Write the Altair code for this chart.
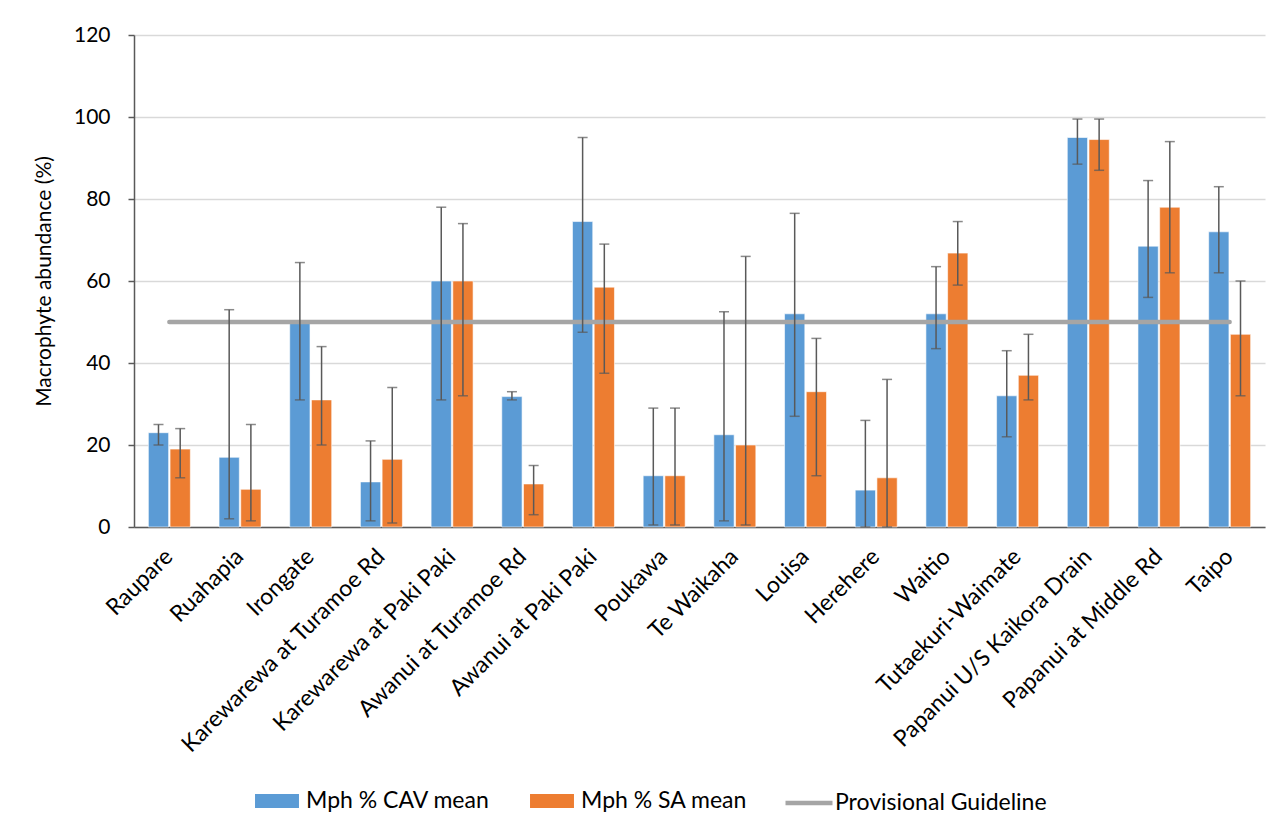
import altair as alt
import pandas as pd

sites = ["Raupare", "Ruahapia", "Irongate", "Karewarewa at Turamoe Rd",
         "Karewarewa at Paki Paki", "Awanui at Turamoe Rd", "Awanui at Paki Paki",
         "Poukawa", "Te Waikaha", "Louisa", "Herehere", "Waitio",
         "Tutaekuri-Waimate", "Papanui U/S Kaikora Drain", "Papanui at Middle Rd", "Taipo"]

cav_mean = [23, 17, 50, 11, 60, 31.8, 74.5, 12.5, 22.5, 52, 9, 52, 32, 95, 68.5, 72]
cav_lo   = [20, 2, 31, 1.5, 31, 31, 47.5, 0.5, 1.5, 27, 0, 43.5, 22, 88.5, 56, 62]
cav_hi   = [25, 53, 64.5, 21, 78, 33, 95, 29, 52.5, 76.5, 26, 63.5, 43, 99.5, 84.5, 83]

sa_mean = [19, 9.2, 31, 16.5, 60, 10.5, 58.5, 12.5, 20, 33, 12, 66.8, 37, 94.5, 78, 47]
sa_lo   = [12, 1.5, 20, 1, 32, 3, 37.5, 0.5, 0.5, 12.5, 0, 59, 31, 87, 62, 32]
sa_hi   = [24, 25, 44, 34, 74, 15, 69, 29, 66, 46, 36, 74.5, 47, 99.5, 94, 60]

guideline = [50] * len(sites)

series_names = ["Mph % CAV mean", "Mph % SA mean"]
series_colors = ["#5b9bd5", "#ed7d31"]
guide_name = "Provisional Guideline"

rows = []
for i, s in enumerate(sites):
    rows.append({"site": s, "series": series_names[0], "value": cav_mean[i], "lo": cav_lo[i], "hi": cav_hi[i]})
    rows.append({"site": s, "series": series_names[1], "value": sa_mean[i], "lo": sa_lo[i], "hi": sa_hi[i]})
df = pd.DataFrame(rows)
gdf = pd.DataFrame({"site": sites, "value": guideline, "name": guide_name})

FONT = "Lato"
x_enc = alt.X("site:N", sort=sites, title=None,
              scale=alt.Scale(paddingInner=0.406, paddingOuter=0.203),
              axis=alt.Axis(labelAngle=-45, labelAlign="right", labelBaseline="top",
                            labelFontSize=23, labelPadding=18, labelOffset=-8, ticks=False,
                            domainColor="#595959", domainWidth=1.5, labelColor="#000000",
                            grid=False, labelFont=FONT, labelLimit=400))
xoff = alt.XOffset("series:N", sort=series_names, scale=alt.Scale(paddingInner=0.065, paddingOuter=0))
y_scale = alt.Scale(domain=[0, 120], nice=False)

bars = alt.Chart(df).mark_bar(stroke="white", strokeWidth=0.6).encode(
    x=x_enc,
    xOffset=xoff,
    y=alt.Y("value:Q", scale=y_scale, title="Macrophyte abundance (%)",
            axis=alt.Axis(values=[0, 20, 40, 60, 80, 100, 120], labelFontSize=21,
                          titleFontSize=21, titleFontWeight="normal", labelFont=FONT,
                          titleFont=FONT, labelColor="#000000", titleColor="#000000",
                          domainColor="#595959", domainWidth=1.5, tickColor="#595959",
                          tickSize=6, tickWidth=1.5, labelPadding=18, titlePadding=19,
                          gridColor="#d9d9d9", gridWidth=1.5)),
    color=alt.Color("series:N", sort=series_names,
                    scale=alt.Scale(domain=series_names, range=series_colors),
                    legend=alt.Legend(title=None, orient="none", direction="horizontal",
                                      legendX=129, legendY=752,
                                      symbolType="M-1.57,-0.5H1.57V0.5H-1.57Z",
                                      symbolSize=784, symbolStrokeWidth=0,
                                      labelFontSize=23, labelFont=FONT, labelColor="#000000",
                                      labelOffset=15, columnPadding=40, padding=0,
                                      labelLimit=400)),
)

err = alt.Chart(df).mark_rule(color="#595959", strokeWidth=1.5).encode(
    x=alt.X("site:N", sort=sites), xOffset=xoff,
    y=alt.Y("lo:Q", scale=y_scale), y2="hi:Q")
cap_lo = alt.Chart(df).mark_tick(color="#595959", thickness=1.5, size=10).encode(
    x=alt.X("site:N", sort=sites), xOffset=xoff, y=alt.Y("lo:Q", scale=y_scale))
cap_hi = alt.Chart(df).mark_tick(color="#595959", thickness=1.5, size=10).encode(
    x=alt.X("site:N", sort=sites), xOffset=xoff, y=alt.Y("hi:Q", scale=y_scale))

line = alt.Chart(gdf).mark_line(strokeWidth=4.5, strokeCap="round").encode(
    x=alt.X("site:N", sort=sites),
    y=alt.Y("value:Q", scale=y_scale),
    stroke=alt.Stroke("name:N", scale=alt.Scale(domain=[guide_name], range=["#a5a5a5"]),
                      legend=alt.Legend(title=None, orient="none", legendX=649, legendY=742,
                                        symbolType="stroke", symbolSize=2209,
                                        symbolStrokeWidth=4.5,
                                        labelFontSize=23, labelFont=FONT, labelColor="#000000",
                                        labelOffset=0, padding=0, labelLimit=400)),
)

chart = alt.layer(bars, line, err, cap_lo, cap_hi).resolve_scale(
    color="independent", stroke="independent"
).properties(
    width=1131, height=492,
    autosize=alt.AutoSizeParams(type="none"),
    padding={"left": 126, "top": 27, "right": 14, "bottom": 290},
).configure_view(stroke=None).configure_axis(gridColor="#d9d9d9")

chart.save("out.html", embed_options={"renderer": "svg", "actions": False})
